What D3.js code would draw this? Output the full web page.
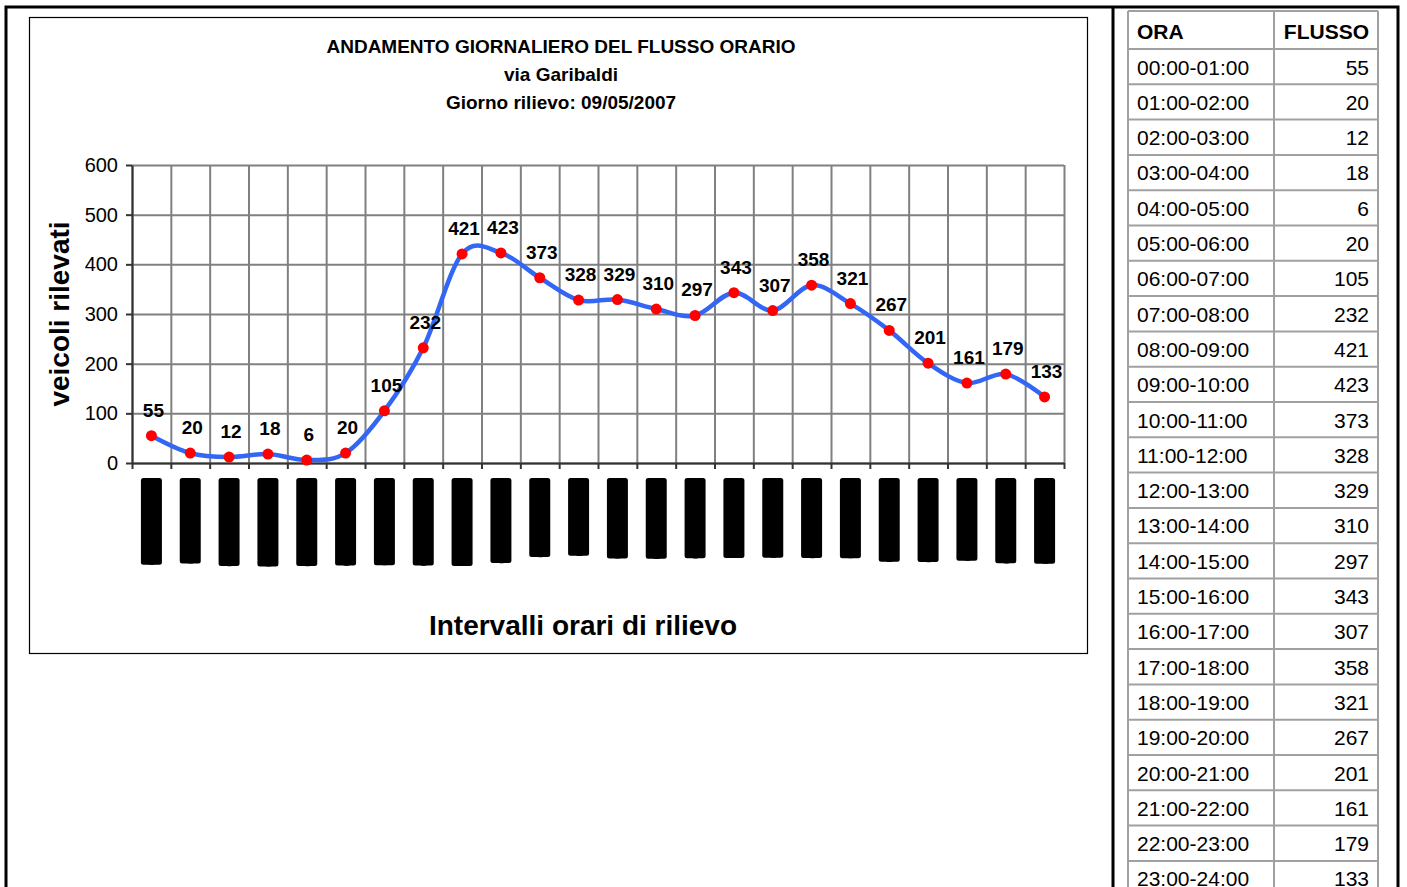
<!DOCTYPE html>
<html><head><meta charset="utf-8">
<script src="https://cdn.jsdelivr.net/npm/d3@7"></script>
<style>
html,body{margin:0;padding:0;background:#fff;}
svg{display:block;font-family:"Liberation Sans",Arial,sans-serif;}
</style></head>
<body>
<svg id="c" width="1407" height="887"></svg>
<script>
const categories = ["00:00-01:00","01:00-02:00","02:00-03:00","03:00-04:00","04:00-05:00","05:00-06:00",
  "06:00-07:00","07:00-08:00","08:00-09:00","09:00-10:00","10:00-11:00","11:00-12:00",
  "12:00-13:00","13:00-14:00","14:00-15:00","15:00-16:00","16:00-17:00","17:00-18:00",
  "18:00-19:00","19:00-20:00","20:00-21:00","21:00-22:00","22:00-23:00","23:00-24:00"];
const flusso = [55,20,12,18,6,20,105,232,421,423,373,328,329,310,297,343,307,358,321,267,201,161,179,133];
const yTicks = [0,100,200,300,400,500,600];
const titleLines = ["ANDAMENTO GIORNALIERO DEL FLUSSO ORARIO","via Garibaldi","Giorno rilievo: 09/05/2007"];
const yTitle = "veicoli rilevati";
const xTitle = "Intervalli orari di rilievo";
const tableHeader = ["ORA","FLUSSO"];

const svg = d3.select("#c");

// outer frame
const outer = svg.append("g").attr("stroke","#000").attr("stroke-width",3).attr("fill","none");
outer.append("path").attr("d","M6,900 V7 H1398 V900");
outer.append("line").attr("x1",1113).attr("x2",1113).attr("y1",7).attr("y2",900);

// chart frame
svg.append("rect").attr("x",29.5).attr("y",17.5).attr("width",1058).attr("height",636)
  .attr("fill","none").attr("stroke","#000").attr("stroke-width",1.2);

// titles
svg.append("g").selectAll("text").data(titleLines).join("text")
  .attr("x",561).attr("y",(d,i)=>53+i*28).attr("text-anchor","middle")
  .attr("font-weight","bold").attr("font-size",19).attr("fill","#000").text(d=>d);

const L=132, R=1064, T=165, B=463;
const x = d3.scaleBand().domain(categories).range([L,R]);
const y = d3.scaleLinear().domain([0,600]).range([B,T]);
const xb = d3.scaleLinear().domain([0,categories.length]).range([L,R]);

// grid
const gx = svg.append("g").attr("transform",`translate(0,${B})`)
  .call(d3.axisBottom(xb).ticks(categories.length).tickSize(-(B-T)).tickFormat(""));
gx.select(".domain").remove();
gx.selectAll("line").attr("stroke","#808080").attr("stroke-width",2);
const gy = svg.append("g").attr("transform",`translate(${L},0)`)
  .call(d3.axisLeft(y).tickValues(yTicks).tickSize(-(R-L)).tickFormat(""));
gy.select(".domain").remove();
gy.selectAll("line").attr("stroke","#808080").attr("stroke-width",2);

// axes
const ax = svg.append("g").attr("transform",`translate(0,${B})`)
  .call(d3.axisBottom(xb).ticks(categories.length).tickSize(6).tickSizeOuter(0).tickFormat(""));
ax.selectAll("line,path").attr("stroke","#333").attr("stroke-width",2);
const ay = svg.append("g").attr("transform",`translate(${L},0)`)
  .call(d3.axisLeft(y).tickValues(yTicks).tickSize(6).tickSizeOuter(0).tickPadding(8));
ay.selectAll("line,path").attr("stroke","#333").attr("stroke-width",2);
ay.selectAll("text").attr("font-size",20).attr("fill","#000").attr("font-family","Liberation Sans, Arial, sans-serif");

// category labels rendered as black blocks (as in the reference image)
const cat = svg.append("g");
categories.forEach(c=>{
  const cx = x(c)+x.bandwidth()/2;
  const g = cat.append("g");
  const t = g.append("text").attr("transform",`translate(${cx-5},480) rotate(90)`)
    .attr("font-size",14.6).attr("font-family","Lato, Inter, sans-serif")
    .style("font-variant-numeric","proportional-nums").attr("fill","#000").text(c);
  const len = t.node().getComputedTextLength();
  g.insert("rect","text").attr("x",cx-10.5).attr("y",478).attr("width",21).attr("height",len+1)
    .attr("rx",2.5).attr("fill","#000");
});

// line
const line = d3.line().x((d,i)=>x(categories[i])+x.bandwidth()/2).y(d=>y(d))
  .curve(d3.curveCatmullRom.alpha(0));
svg.append("path").datum(flusso).attr("d",line).attr("fill","none")
  .attr("stroke","#3366F5").attr("stroke-width",4.5).attr("stroke-linejoin","round");

svg.append("g").selectAll("circle").data(flusso).join("circle")
  .attr("cx",(d,i)=>x(categories[i])+x.bandwidth()/2).attr("cy",d=>y(d)).attr("r",5.5).attr("fill","#FF0000");

svg.append("g").selectAll("text").data(flusso).join("text")
  .attr("x",(d,i)=>x(categories[i])+x.bandwidth()/2+2).attr("y",d=>y(d)-19)
  .attr("text-anchor","middle").attr("font-weight","bold").attr("font-size",19).attr("fill","#000")
  .text(d=>d);

// axis titles
svg.append("text").attr("transform","translate(69,314) rotate(-90)").attr("text-anchor","middle")
  .attr("font-weight","bold").attr("font-size",28).text(yTitle);
svg.append("text").attr("x",583).attr("y",635).attr("text-anchor","middle")
  .attr("font-weight","bold").attr("font-size",28).text(xTitle);

// table
const tL=1128, tM=1274, tR=1378, tTop=11, hH=38, rH=35.3;
const rows = categories.map((c,i)=>({ora:c, v:flusso[i]}));
const tb = svg.append("g");
const rowY = i => tTop+hH+i*rH;
const gridC = "#A0A0A0";
tb.append("line").attr("x1",tL).attr("x2",tR).attr("y1",tTop).attr("y2",tTop).attr("stroke",gridC).attr("stroke-width",2);
tb.selectAll("line.h").data(d3.range(rows.length+1)).join("line").attr("class","h")
  .attr("x1",tL).attr("x2",tR).attr("y1",i=>rowY(i)).attr("y2",i=>rowY(i)).attr("stroke",gridC).attr("stroke-width",2);
[tL,tM,tR].forEach(xx=>tb.append("line").attr("x1",xx).attr("x2",xx).attr("y1",tTop).attr("y2",900)
  .attr("stroke",gridC).attr("stroke-width",2));
tb.append("text").attr("x",1137).attr("y",tTop+28).attr("font-weight","bold").attr("font-size",21).text(tableHeader[0]);
tb.append("text").attr("x",1369).attr("y",tTop+28).attr("text-anchor","end").attr("font-weight","bold").attr("font-size",21).text(tableHeader[1]);
tb.selectAll("text.o").data(rows).join("text").attr("class","o")
  .attr("x",1137).attr("y",(d,i)=>rowY(i)+25.5).attr("font-size",21).text(d=>d.ora);
tb.selectAll("text.v").data(rows).join("text").attr("class","v")
  .attr("x",1369).attr("y",(d,i)=>rowY(i)+25.5).attr("text-anchor","end").attr("font-size",21).text(d=>d.v);
</script>
</body></html>
